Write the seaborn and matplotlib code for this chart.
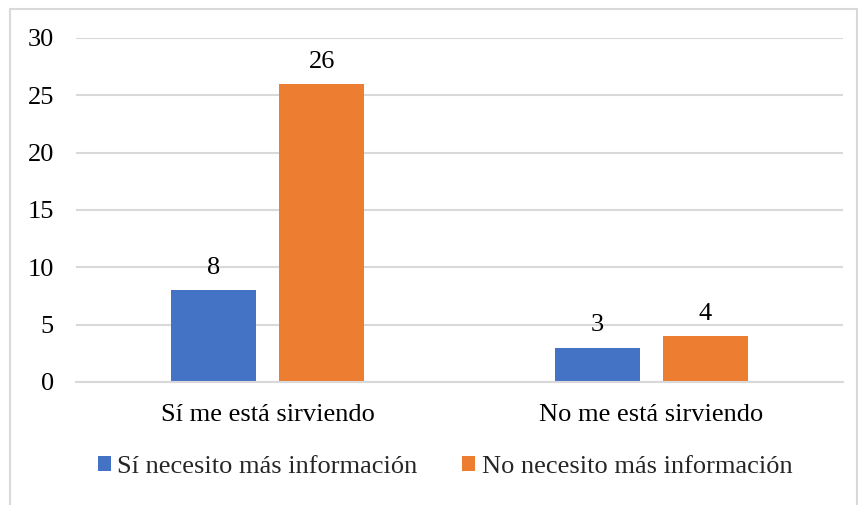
import pandas as pd
import seaborn as sns
import matplotlib.pyplot as plt
from matplotlib.patches import Rectangle

# Data
categories = ["Sí me está sirviendo", "No me está sirviendo"]
series_names = ["Sí necesito más información", "No necesito más información"]
si_necesito = [8, 3]
no_necesito = [26, 4]
colors = ["#4472C4", "#ED7D31"]

df = pd.DataFrame({
    "categoria": categories * 2,
    "serie": [series_names[0]] * 2 + [series_names[1]] * 2,
    "valor": si_necesito + no_necesito,
})

sns.set_style("white")
plt.rcParams["font.family"] = ["Liberation Serif", "DejaVu Serif"]
fs = 19

fig = plt.figure(figsize=(8.58, 5.05), dpi=100)
ax = fig.add_axes([0.0886, 0.2436, 0.894, 0.6812])

sns.barplot(data=df, x="categoria", y="valor", hue="serie", order=categories,
            hue_order=series_names, palette=colors, width=0.563, gap=0.213,
            saturation=1, linewidth=0, ax=ax, legend=True)

for cont in ax.containers:
    ax.bar_label(cont, padding=8, fontsize=fs, color="#000000")

ax.set_xlim(-0.5, 1.5)
ax.set_ylim(0, 30)
ax.set_yticks(range(0, 31, 5))
ax.yaxis.grid(True, color="#d9d9d9", linewidth=1.5)
ax.set_axisbelow(True)
for s in ["left", "right", "top"]:
    ax.spines[s].set_visible(False)
ax.spines["bottom"].set_color("#d9d9d9")
ax.spines["bottom"].set_linewidth(1.5)
ax.tick_params(axis="y", length=0, pad=16, labelsize=fs, labelcolor="#000000")
ax.tick_params(axis="x", length=0, pad=15.5, labelsize=fs, labelcolor="#000000")
ax.set_xlabel("")
ax.set_ylabel("")

handles, labels = ax.get_legend_handles_labels()
ax.legend(handles, labels, loc="center", bbox_to_anchor=(445 / 858, 1 - 467 / 505),
          bbox_transform=fig.transFigure, ncol=2, frameon=False, fontsize=fs,
          handlelength=0.5, handleheight=0.5, handletextpad=0.23,
          columnspacing=1.7, borderpad=0, borderaxespad=0)

# chart border
fig.patches.append(Rectangle((9.5 / 858, -0.01), 847 / 858, 1 - 8.5 / 505 + 0.01,
                             transform=fig.transFigure, fill=False,
                             edgecolor="#d9d9d9", linewidth=1.5))

fig.savefig("out.png", dpi=100)
